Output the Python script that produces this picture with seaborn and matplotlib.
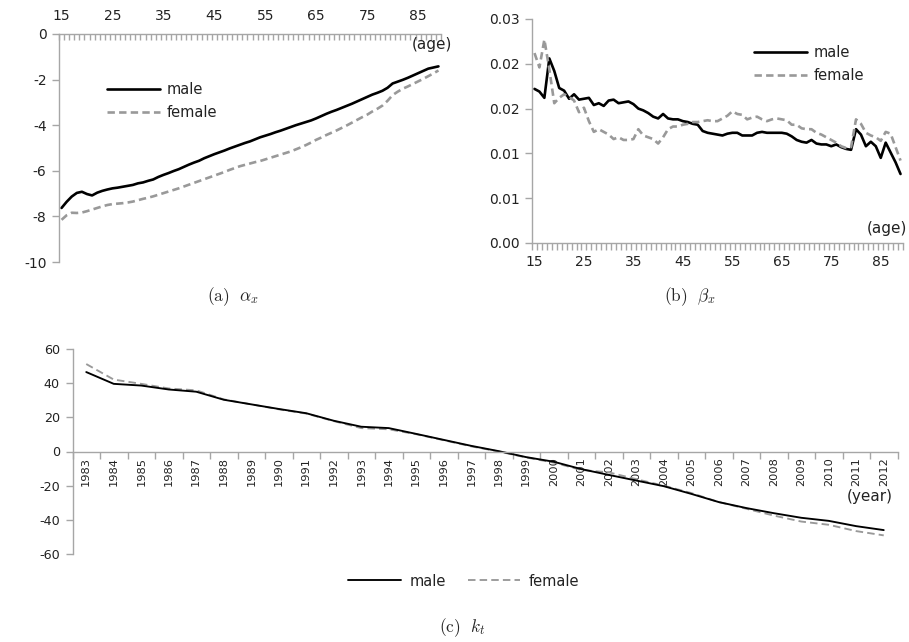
import numpy as np
import pandas as pd
import matplotlib
matplotlib.use("Agg")
import matplotlib.pyplot as plt
from matplotlib.lines import Line2D
import seaborn as sns

# ---------------- data ----------------
ages = list(range(15, 90))
age_tick_labels = ["15", "25", "35", "45", "55", "65", "75", "85"]

alpha_male = [-7.63, -7.36, -7.13, -6.97, -6.92, -7.02, -7.08, -6.96, -6.88, -6.82,
              -6.77, -6.74, -6.70, -6.66, -6.62, -6.55, -6.51, -6.44, -6.38, -6.27,
              -6.18, -6.10, -6.01, -5.93, -5.83, -5.73, -5.64, -5.56, -5.45, -5.36,
              -5.27, -5.19, -5.11, -5.02, -4.94, -4.86, -4.78, -4.71, -4.62, -4.53,
              -4.46, -4.39, -4.31, -4.24, -4.16, -4.08, -4.00, -3.93, -3.86, -3.79,
              -3.70, -3.60, -3.50, -3.41, -3.33, -3.24, -3.15, -3.06, -2.96, -2.86,
              -2.76, -2.66, -2.58, -2.49, -2.36, -2.17, -2.09, -2.01, -1.92, -1.82,
              -1.72, -1.62, -1.52, -1.47, -1.42]
alpha_female = [-8.15, -7.95, -7.84, -7.85, -7.83, -7.77, -7.70, -7.63, -7.56, -7.50,
                -7.46, -7.44, -7.42, -7.39, -7.35, -7.29, -7.23, -7.18, -7.12, -7.05,
                -6.98, -6.91, -6.84, -6.77, -6.69, -6.61, -6.53, -6.45, -6.37, -6.29,
                -6.21, -6.13, -6.05, -5.96, -5.88, -5.80, -5.74, -5.68, -5.62, -5.57,
                -5.50, -5.43, -5.36, -5.29, -5.22, -5.15, -5.06, -4.97, -4.87, -4.76,
                -4.64, -4.54, -4.43, -4.33, -4.23, -4.12, -4.01, -3.89, -3.77, -3.65,
                -3.54, -3.40, -3.28, -3.14, -2.93, -2.68, -2.53, -2.40, -2.30, -2.19,
                -2.08, -1.97, -1.85, -1.73, -1.60]
alpha_yticks = [0, -2, -4, -6, -8, -10]
alpha_ytick_labels = ["0", "-2", "-4", "-6", "-8", "-10"]

beta_male = [0.0172, 0.0169, 0.0162, 0.0206, 0.0192, 0.0173, 0.0170, 0.0161, 0.0166, 0.0160,
             0.0161, 0.0162, 0.0154, 0.0156, 0.0153, 0.0159, 0.0160, 0.0156, 0.0157, 0.0158,
             0.0155, 0.0150, 0.0148, 0.0145, 0.0141, 0.0139, 0.0144, 0.0139, 0.0138, 0.0138,
             0.0136, 0.0135, 0.0133, 0.0132, 0.0125, 0.0123, 0.0122, 0.0121, 0.0120, 0.0122,
             0.0123, 0.0123, 0.0120, 0.0120, 0.0120, 0.0123, 0.0124, 0.0123, 0.0123, 0.0123,
             0.0123, 0.0122, 0.0119, 0.0115, 0.0113, 0.0112, 0.0115, 0.0111, 0.0110, 0.0110,
             0.0108, 0.0110, 0.0107, 0.0105, 0.0104, 0.0127, 0.0121, 0.0108, 0.0113, 0.0108,
             0.0095, 0.0112, 0.0101, 0.0090, 0.0077]
beta_female = [0.0212, 0.0196, 0.0227, 0.0194, 0.0156, 0.0162, 0.0166, 0.0163, 0.0159, 0.0146,
               0.0151, 0.0136, 0.0124, 0.0127, 0.0124, 0.0121, 0.0116, 0.0118, 0.0115, 0.0115,
               0.0116, 0.0127, 0.0120, 0.0118, 0.0116, 0.0111, 0.0118, 0.0127, 0.0130, 0.0130,
               0.0132, 0.0133, 0.0135, 0.0135, 0.0136, 0.0137, 0.0136, 0.0136, 0.0139, 0.0142,
               0.0147, 0.0144, 0.0143, 0.0138, 0.0140, 0.0141, 0.0138, 0.0136, 0.0138, 0.0139,
               0.0138, 0.0137, 0.0132, 0.0132, 0.0128, 0.0127, 0.0127, 0.0123, 0.0121, 0.0118,
               0.0115, 0.0112, 0.0108, 0.0106, 0.0107, 0.0138, 0.0133, 0.0123, 0.0120, 0.0118,
               0.0114, 0.0124, 0.0122, 0.0107, 0.0092]
beta_yticks = [0.0, 0.005, 0.010, 0.015, 0.020, 0.025]
beta_ytick_labels = ["0.00", "0.01", "0.01", "0.02", "0.02", "0.03"]

years = list(range(1983, 2013))
k_male = [46.5, 39.6, 38.6, 36.3, 35.0, 30.3, 27.6, 24.9, 22.4, 18.0,
          14.5, 13.7, 10.3, 6.8, 3.3, 0.2, -3.3, -6.0, -10.3, -13.7,
          -17.0, -20.3, -24.8, -29.6, -33.1, -36.1, -38.8, -40.6, -43.7, -46.0]
k_female = [51.2, 42.1, 39.6, 36.9, 35.8, 30.5, 27.6, 24.7, 22.2, 17.8,
            13.7, 13.0, 10.1, 6.6, 3.0, 0.0, -3.5, -6.5, -10.8, -12.2,
            -16.2, -20.0, -24.3, -29.6, -33.5, -37.5, -41.0, -42.9, -46.6, -49.1]
k_yticks = [60, 40, 20, 0, -20, -40, -60]
k_ytick_labels = ["60", "40", "20", "0", "-20", "-40", "-60"]

series_names = ["male", "female"]
captions = [r"$\mathrm{(a)}\ \ \alpha_x$", r"$\mathrm{(b)}\ \ \beta_x$", r"$\mathrm{(c)}\ \ k_t$"]

# ---------------- style ----------------
sns.set_theme(style="white")
plt.rcParams["font.family"] = ["DejaVu Sans"]
plt.rcParams["mathtext.fontset"] = "cm"
plt.rcParams["axes.unicode_minus"] = False

W, H = 909, 642
fig = plt.figure(figsize=(W / 100, H / 100), dpi=100)

def fx(px):
    return px / W

def fy(py):
    return 1 - py / H

SPINE = "#a6a6a6"
TXT = "#222222"
GRAY = "#999999"
FS = 10

def long_df(cats, male, female):
    n = len(cats)
    return pd.DataFrame({
        "pos": list(range(n)) * 2,
        "value": list(male) + list(female),
        "sex": ["male"] * n + ["female"] * n,
    })

def draw(ax, df, lw, dash, order):
    for s in order:
        sub = df[df["sex"] == s]
        sns.lineplot(data=sub, x="pos", y="value", ax=ax, color="black" if s == "male" else GRAY,
                     linewidth=lw, linestyle="-" if s == "male" else (0, dash), legend=False,
                     errorbar=None)
    ax.set_xlabel("")
    ax.set_ylabel("")

def style_common(ax):
    for sp in ax.spines.values():
        sp.set_color(SPINE)
        sp.set_linewidth(1.0)
    ax.tick_params(axis="y", which="major", direction="out", length=5, width=1,
                   color=SPINE, labelsize=FS, labelcolor=TXT, pad=4, left=True)

def legend_handles(lw, dash):
    return [Line2D([0], [0], color="black", lw=lw),
            Line2D([0], [0], color=GRAY, lw=lw, linestyle=(0, dash))]

LW = 1.9
DASH = (2.8, 1.6)

# ---------------- panel (a) ----------------
n_age = len(ages)
ax_a = fig.add_axes([fx(59), fy(262), fx(382), 228 / H])
draw(ax_a, long_df(ages, alpha_male, alpha_female), LW, DASH, ["male", "female"])
ax_a.set_xlim(-0.5, n_age - 0.5)
ax_a.set_ylim(-10, 0)
style_common(ax_a)
ax_a.spines["right"].set_visible(False)
ax_a.spines["bottom"].set_visible(False)
ax_a.set_yticks(alpha_yticks, alpha_ytick_labels)
ax_a.xaxis.tick_top()
ax_a.set_xticks(np.arange(-0.5, n_age, 1.0))
ax_a.set_xticklabels([])
ax_a.set_xticks(list(range(0, n_age, 10)), age_tick_labels, minor=True)
ax_a.tick_params(axis="x", which="major", direction="in", length=4, width=1, color=SPINE,
                 top=True, bottom=False)
ax_a.tick_params(axis="x", which="minor", length=0, top=True, bottom=False,
                 labeltop=True, labelbottom=False, labelsize=FS, labelcolor=TXT, pad=8)
ax_a.text(1.03, 0.955, "(age)", transform=ax_a.transAxes, ha="right", va="center",
          fontsize=11, color=TXT)
ax_a.legend(legend_handles(LW, DASH), series_names, loc="upper left",
            bbox_to_anchor=((107 - 59) / 382, 1 - (82 - 34) / 228), frameon=False,
            borderaxespad=0, borderpad=0, handlelength=3.6, handletextpad=0.5,
            labelspacing=0.55, fontsize=10.5, labelcolor=TXT)
fig.text(fx(233), fy(297), captions[0], ha="center", va="center", fontsize=12.5)

# ---------------- panel (b) ----------------
ax_b = fig.add_axes([fx(532), fy(243), fx(371), 224 / H])
draw(ax_b, long_df(ages, beta_male, beta_female), LW, DASH, ["male", "female"])
ax_b.set_xlim(-0.5, n_age - 0.5)
ax_b.set_ylim(0, 0.025)
style_common(ax_b)
ax_b.spines["right"].set_visible(False)
ax_b.spines["top"].set_visible(False)
ax_b.set_yticks(beta_yticks, beta_ytick_labels)
ax_b.set_xticks(np.arange(-0.5, n_age, 1.0))
ax_b.set_xticklabels([])
ax_b.set_xticks(list(range(0, n_age, 10)), age_tick_labels, minor=True)
ax_b.tick_params(axis="x", which="major", direction="out", length=5, width=1, color=SPINE,
                 bottom=True)
ax_b.tick_params(axis="x", which="minor", length=0, bottom=True, labelsize=FS,
                 labelcolor=TXT, pad=9)
ax_b.text(1.01, 0.065, "(age)", transform=ax_b.transAxes, ha="right", va="center",
          fontsize=11, color=TXT)
ax_b.legend(legend_handles(LW, DASH), series_names, loc="upper left",
            bbox_to_anchor=((754 - 532) / 371, 1 - (45 - 19) / 224), frameon=False,
            borderaxespad=0, borderpad=0, handlelength=3.6, handletextpad=0.5,
            labelspacing=0.55, fontsize=10.5, labelcolor=TXT)
fig.text(fx(690), fy(297), captions[1], ha="center", va="center", fontsize=12.5)

# ---------------- panel (c) ----------------
n_yr = len(years)
ax_c = fig.add_axes([fx(72.5), fy(554), fx(825), 205 / H])
draw(ax_c, long_df(years, k_male, k_female), 1.35, (4.0, 2.2), ["female", "male"])
ax_c.set_xlim(-0.5, n_yr - 0.5)
ax_c.set_ylim(-60, 60)
style_common(ax_c)
ax_c.tick_params(axis="y", labelsize=9.2)
ax_c.spines["right"].set_visible(False)
ax_c.spines["top"].set_visible(False)
ax_c.spines["bottom"].set_position(("data", 0))
ax_c.set_yticks(k_yticks, k_ytick_labels)
ax_c.set_xticks(np.arange(-0.5, n_yr, 1.0))
ax_c.set_xticklabels([])
ax_c.set_xticks(list(range(n_yr)), [str(y) for y in years], minor=True)
ax_c.tick_params(axis="x", which="major", direction="out", length=5, width=1, color=SPINE,
                 bottom=True)
ax_c.tick_params(axis="x", which="minor", length=0, bottom=True, labelsize=8.2,
                 labelcolor=TXT, pad=4, labelrotation=90)
ax_c.text(893 / W, fy(496), "(year)", transform=fig.transFigure, ha="right", va="center",
          fontsize=11, color=TXT)
ax_c.legend(legend_handles(1.35, (4.0, 2.2)), series_names, loc="center left",
            bbox_to_anchor=(fx(348), fy(581)), bbox_transform=fig.transFigure, ncol=2,
            frameon=False, borderaxespad=0, borderpad=0, handlelength=3.6,
            handletextpad=0.6, columnspacing=1.5, fontsize=10.5, labelcolor=TXT)
fig.text(fx(462), fy(628), captions[2], ha="center", va="center", fontsize=12.5)

fig.savefig("out.png", dpi=100, facecolor="white")
